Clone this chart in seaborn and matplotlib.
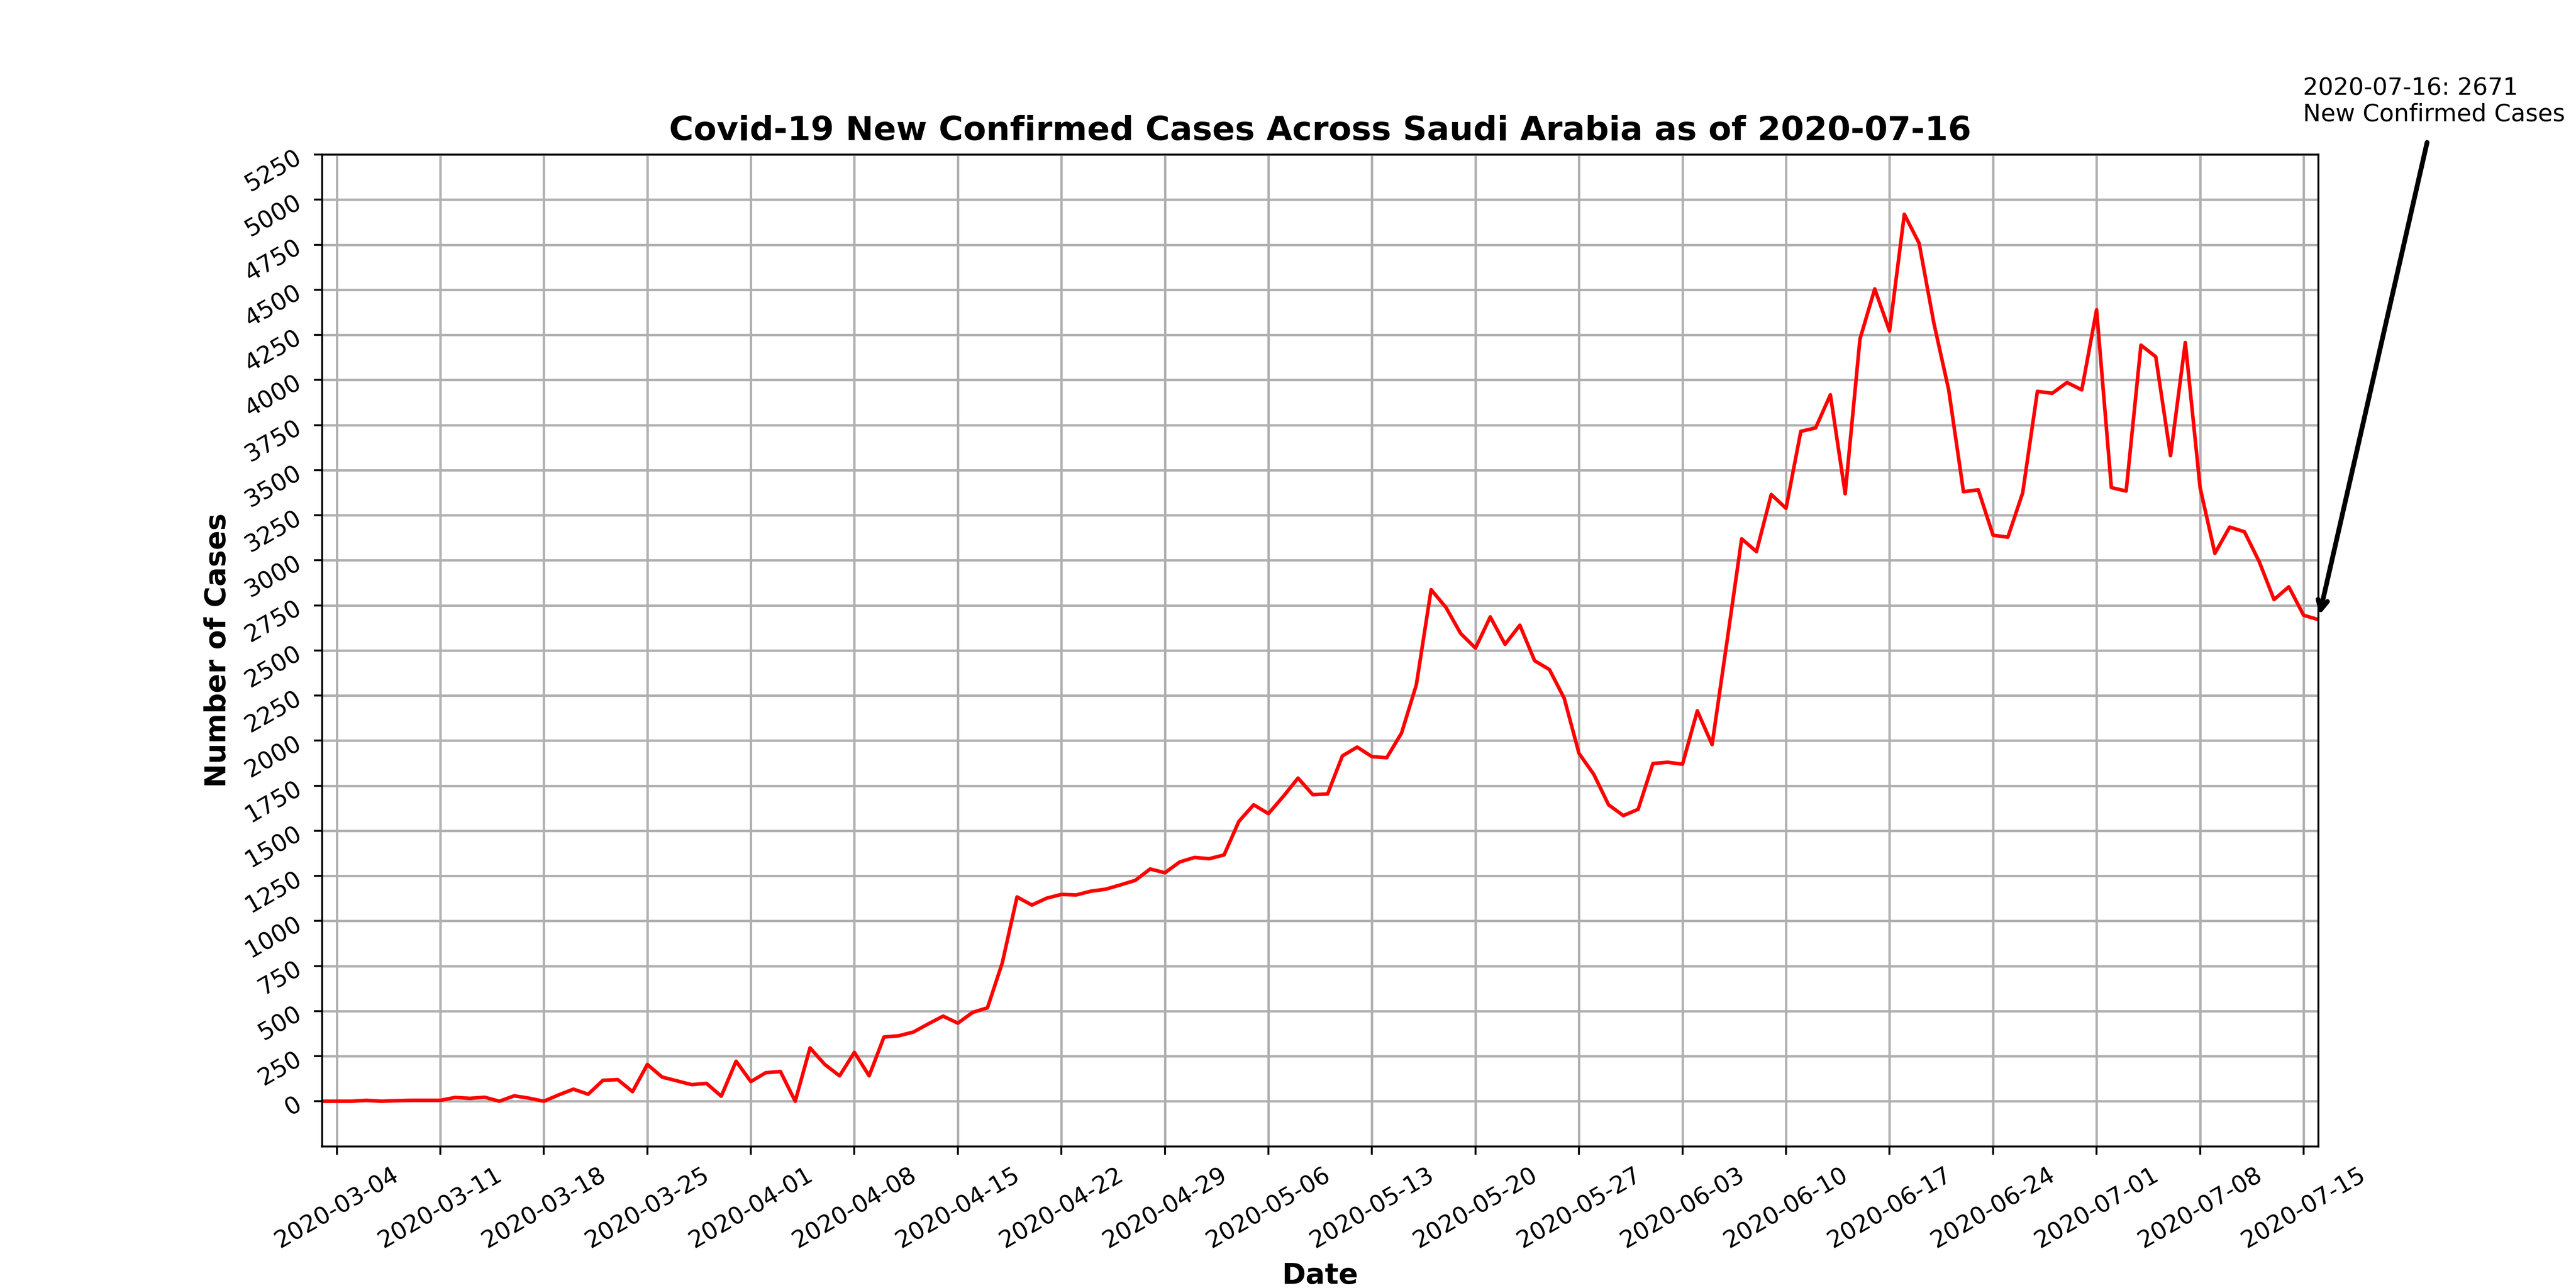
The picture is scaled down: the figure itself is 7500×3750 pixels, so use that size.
import matplotlib
matplotlib.use("Agg")
import matplotlib.pyplot as plt
import matplotlib.dates as mdates
import seaborn as sns
import pandas as pd

dates = pd.date_range("2020-03-03", "2020-07-16", freq="D")

new_cases = [
    # March 3 - 31
    0, 0, 0, 5, 0, 3, 5, 5, 5, 21, 16, 22, 0, 30, 17, 0, 35, 67, 39, 116, 120, 53,
    204, 134, 113, 92, 99, 28, 222,
    # April
    109, 158, 165, 0, 296, 204, 141, 271, 141, 356, 363, 384, 429, 472, 433, 493,
    518, 767, 1133, 1088, 1126, 1147, 1144, 1165, 1176, 1200, 1225, 1288, 1267, 1327,
    # May
    1352, 1345, 1366, 1552, 1644, 1595, 1690, 1792, 1700, 1704, 1915, 1964, 1911,
    1905, 2042, 2309, 2837, 2739, 2594, 2513, 2686, 2534, 2640, 2443, 2394, 2235,
    1929, 1813, 1644, 1584, 1619,
    # June
    1873, 1880, 1869, 2165, 1978, 2545, 3119, 3048, 3365, 3288, 3715, 3734, 3918,
    3369, 4227, 4505, 4272, 4919, 4758, 4314, 3945, 3380, 3391, 3139, 3128, 3373,
    3937, 3926, 3986, 3945,
    # July 1 - 16
    4389, 3403, 3384, 4193, 4129, 3580, 4208, 3403, 3038, 3184, 3158, 2992, 2782,
    2853, 2695, 2671,
]

df = pd.DataFrame({"date": dates, "cases": new_cases})

fig, ax = plt.subplots(figsize=(15, 7.5))
sns.lineplot(data=df, x="date", y="cases", color="red", linewidth=1.5, ax=ax)

ax.set_title("Covid-19 New Confirmed Cases Across Saudi Arabia as of 2020-07-16",
             fontsize=14, fontweight="bold")
ax.set_xlabel("Date", fontsize=12, fontweight="bold")
ax.set_ylabel("Number of Cases", fontsize=12, fontweight="bold")

ax.set_xlim(df["date"].iloc[0], df["date"].iloc[-1])
ax.set_ylim(-250, 5250)
ax.set_yticks(range(0, 5251, 250))
ax.xaxis.set_major_locator(mdates.DayLocator(bymonthday=None, interval=7))
ax.set_xticks(pd.date_range("2020-03-04", "2020-07-15", freq="7D"))
ax.xaxis.set_major_formatter(mdates.DateFormatter("%Y-%m-%d"))
plt.xticks(rotation=30, fontsize=10)
plt.yticks(rotation=30, fontsize=10)
ax.grid(True, color="#b0b0b0", linewidth=1)

last = df.iloc[-1]
fig.text(0.894, 0.902, f"{last['date']:%Y-%m-%d}: {last['cases']}\nNew Confirmed Cases",
         fontsize=10, ha="left", va="bottom")
ax.annotate("", xy=(last["date"], last["cases"]), xycoords="data",
            xytext=(0.9426, 0.893), textcoords="figure fraction",
            arrowprops=dict(arrowstyle="->", lw=2, color="black"),
            annotation_clip=False)

plt.savefig("out.png", dpi=500)
plt.close()
